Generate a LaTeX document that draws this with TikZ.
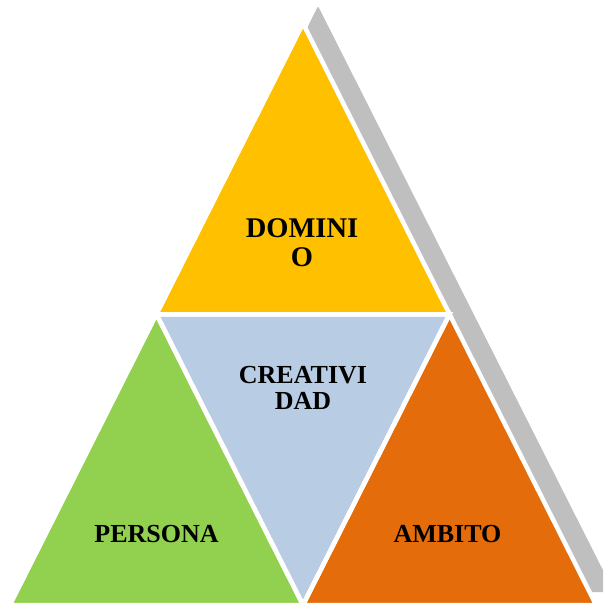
\documentclass[tikz,border=0pt]{standalone}
\usepackage{fontspec}
\setmainfont{Liberation Serif}
\definecolor{cyellow}{HTML}{FFC000}
\definecolor{cgreen}{HTML}{92D050}
\definecolor{cblue}{HTML}{B8CCE4}
\definecolor{corange}{HTML}{E46C0A}
\definecolor{cgray}{HTML}{BFBFBF}
\tikzset{
  part/.style={draw=white, line width=4.5pt, line join=miter},
  lbl/.style={anchor=base, inner sep=0pt, text=black, font=\fontsize{26}{28}\selectfont\bfseries},
  biglbl/.style={lbl, font=\fontsize{28.5}{30}\selectfont\bfseries}
}
\begin{document}
\begin{tikzpicture}[x=1pt,y=-1pt]
\useasboundingbox (0,0) rectangle (603,607);
\clip (0,0) rectangle (603,607);
% corners
\coordinate (A) at (303,23.5);
\coordinate (L) at (9.9,605);
\coordinate (R) at (596.1,605);
\coordinate (ML) at (156.45,314.25);
\coordinate (MR) at (449.55,314.25);
\coordinate (MB) at (303,605);
% shadow
\fill[cgray, rounded corners=2pt] (307,28) -- (318,6) -- (614,592) -- (303,592) -- cycle;
% parts
\fill[cyellow] (A) -- (ML) -- (MR) -- cycle;
\fill[cgreen] (ML) -- (L) -- (MB) -- cycle;
\fill[cblue] (ML) -- (MR) -- (MB) -- cycle;
\fill[corange] (MR) -- (MB) -- (R) -- cycle;
\draw[part] (A) -- (ML) -- (MR) -- cycle;
\draw[part] (ML) -- (L) -- (MB) -- cycle;
\draw[part] (ML) -- (MR) -- (MB) -- cycle;
\draw[part] (MR) -- (MB) -- (R) -- cycle;
% labels
\node[biglbl] (dom1) at (302,237) {DOMINI};
\node[biglbl] (dom2) at (302,266) {O};
\node[lbl] (cre1) at (303,383) {CREATIVI};
\node[lbl] (cre2) at (303,409) {DAD};
\node[lbl] (per) at (156.5,542) {PERSONA};
\node[lbl] (amb) at (447.5,542) {AMBITO};
\end{tikzpicture}
\end{document}
